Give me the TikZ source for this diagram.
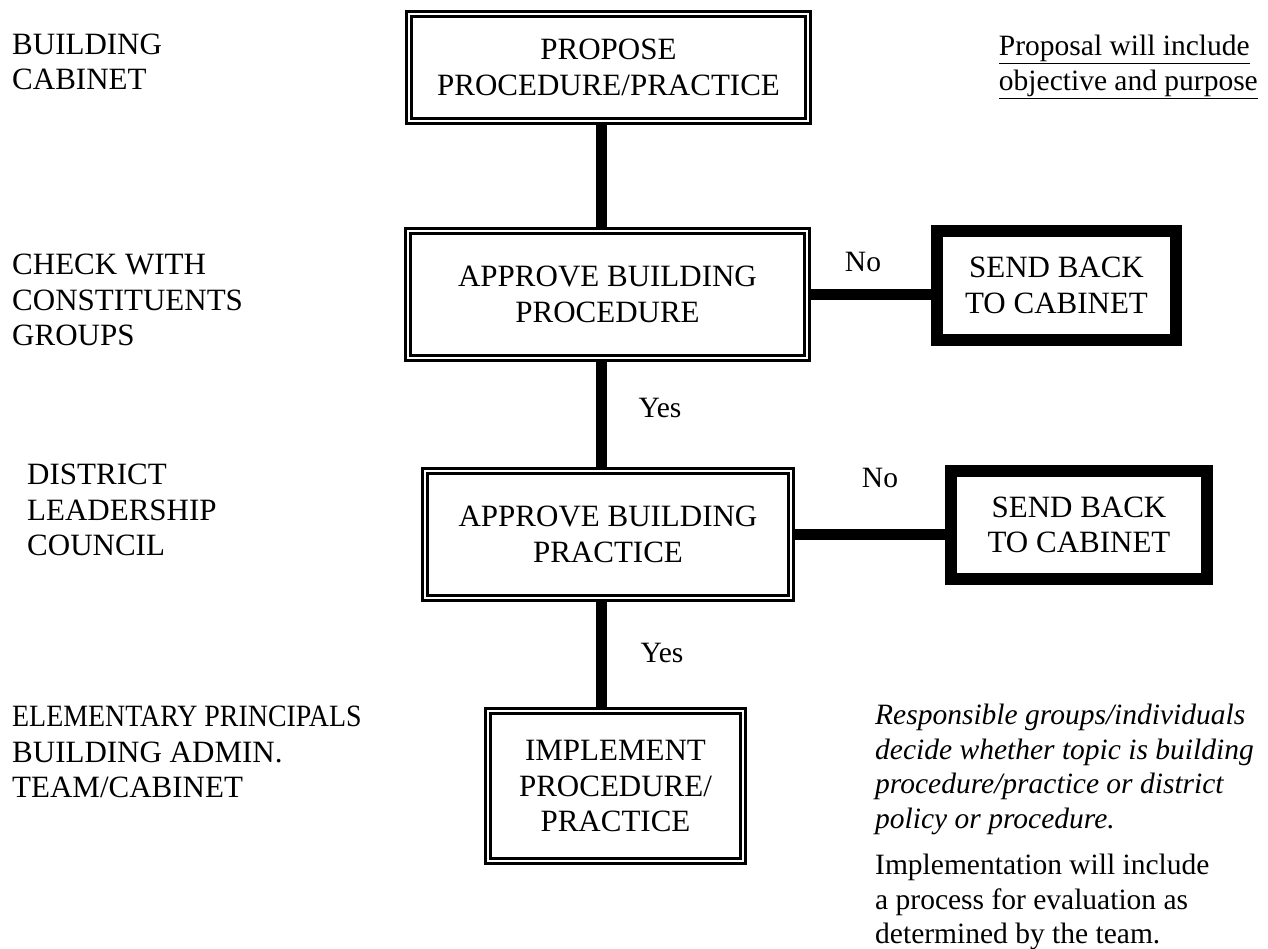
\documentclass[tikz,border=0pt]{standalone}
\usepackage{fontspec}
\setmainfont{Liberation Serif}
\usetikzlibrary{backgrounds}

\tikzset{
  dbox/.style={draw, double, line width=2.7pt, double distance=2.6pt,
    fill=white, align=center, inner sep=0pt},
  sendbox/.style={draw, line width=12pt, fill=white, align=center, inner sep=0pt},
  link/.style={line width=11pt},
  caps/.style={font=\fontsize{31}{35.5}\selectfont, inner sep=0pt},
  prose/.style={font=\fontsize{29.5}{34.5}\selectfont, inner sep=0pt},
}

\begin{document}
\begin{tikzpicture}[x=1pt, y=-1pt]
  \useasboundingbox (0,0) rectangle (1268,949);
  \coordinate (spine) at (601,0);

  % flow boxes
  \node[dbox, caps, minimum width=399pt, minimum height=107pt] (propose) at (608.5,67.5)
    {PROPOSE\\PROCEDURE/PRACTICE};
  \node[dbox, caps, minimum width=399pt, minimum height=127pt] (apprproc) at (607.5,294.5)
    {APPROVE BUILDING\\PROCEDURE};
  \node[dbox, caps, minimum width=366pt, minimum height=127pt] (apprprac) at (608,534.5)
    {APPROVE BUILDING\\PRACTICE};
  \node[dbox, caps, minimum width=255pt, minimum height=150pt] (implement) at (615.5,786)
    {IMPLEMENT\\PROCEDURE/\\PRACTICE};
  \node[sendbox, caps, minimum width=239pt, minimum height=109pt] (sendA) at (1056.5,285.5)
    {SEND BACK\\TO CABINET};
  \node[sendbox, caps, minimum width=256pt, minimum height=108pt] (sendB) at (1079,525)
    {SEND BACK\\TO CABINET};

  \begin{scope}[on background layer]
    \draw[link] (propose.south -| spine) -- (apprproc.north -| spine);
    \draw[link] (apprproc.south -| spine) -- (apprprac.north -| spine);
    \draw[link] (apprprac.south -| spine) -- (implement.north -| spine);
    \draw[link] (apprproc.east) -- (apprproc.east -| sendA.west);
    \draw[link] (apprprac.east) -- (apprprac.east -| sendB.west);
  \end{scope}

  \node[prose] (noA) at (863,262) {No};
  \node[prose] (noB) at (880,478) {No};
  \node[prose] (yesA) at (660,408) {Yes};
  \node[prose] (yesB) at (662,653) {Yes};

  % groups on the left
  \node[caps, align=left, anchor=west] (cabinet) at (12,62) {BUILDING\\CABINET};
  \node[caps, align=left, anchor=west] (constit) at (12,300)
    {CHECK WITH\\CONSTITUENTS\\GROUPS};
  \node[caps, align=left, anchor=west] (council) at (27,510)
    {DISTRICT\\LEADERSHIP\\COUNCIL};
  \node[caps, align=left, anchor=west] (principals) at (12,752)
    {\scalebox{0.9}[1]{ELEMENTARY PRINCIPALS}\\BUILDING ADMIN.\\TEAM/CABINET};

  % notes
  \node[prose, align=left, anchor=north east] (proposal) at (1258,35)
    {\underline{Proposal will include}\\\underline{objective and purpose}};
  \node[prose, align=left, anchor=north west] (decide) at (875,704)
    {\itshape Responsible groups/individuals\\\itshape decide whether topic is building\\
     \itshape procedure/practice or district\\\itshape policy or procedure.};
  \node[prose, align=left, anchor=north west] (evaluate) at (875,854)
    {Implementation will include\\a process for evaluation as\\determined by the team.};
\end{tikzpicture}
\end{document}
